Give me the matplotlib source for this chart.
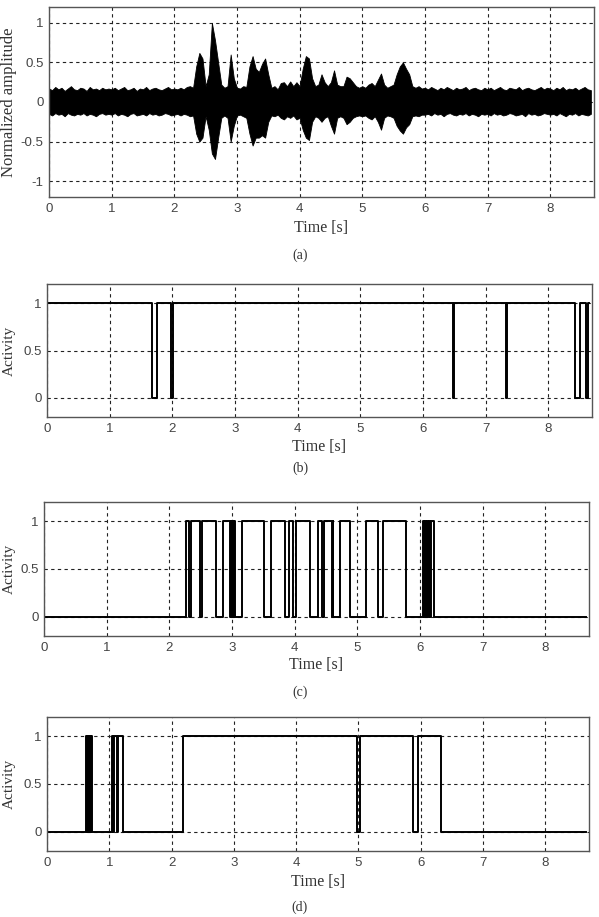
import numpy as np
import matplotlib
matplotlib.use("Agg")
import matplotlib.pyplot as plt

# ---- data ----
t_end = 8.65

# (a) waveform envelope, sampled every 0.05 s from 0 to 8.65 s
env_upper = [
    0.17, 0.15, 0.19, 0.16, 0.18, 0.14, 0.17, 0.20, 0.16, 0.15, 0.18, 0.17, 0.14, 0.19, 0.16, 0.17, 0.15, 0.18, 0.16, 0.17,
    0.16, 0.18, 0.15, 0.17, 0.19, 0.15, 0.16, 0.18, 0.14, 0.17, 0.16, 0.19, 0.15, 0.17, 0.18, 0.16, 0.15, 0.17, 0.19, 0.16,
    0.17, 0.16, 0.18, 0.16, 0.19, 0.20, 0.18, 0.45, 0.62, 0.55, 0.20, 0.35, 1.00, 0.78, 0.50, 0.22, 0.18, 0.20, 0.60, 0.30,
    0.18, 0.17, 0.20, 0.19, 0.45, 0.58, 0.42, 0.38, 0.48, 0.55, 0.35, 0.18, 0.20, 0.16, 0.24, 0.25, 0.20, 0.26, 0.20, 0.25,
    0.20, 0.42, 0.58, 0.55, 0.30, 0.20, 0.22, 0.35, 0.25, 0.20, 0.25, 0.40, 0.22, 0.20, 0.20, 0.32, 0.30, 0.25, 0.20, 0.18,
    0.20, 0.18, 0.22, 0.24, 0.20, 0.28, 0.36, 0.22, 0.18, 0.20, 0.22, 0.35, 0.45, 0.50, 0.42, 0.35, 0.20, 0.18, 0.20, 0.17,
    0.18, 0.16, 0.19, 0.17, 0.15, 0.18, 0.16, 0.19, 0.17, 0.15, 0.18, 0.16, 0.17, 0.19, 0.15, 0.17, 0.18, 0.16, 0.15, 0.18,
    0.16, 0.18, 0.15, 0.17, 0.19, 0.16, 0.15, 0.18, 0.17, 0.16, 0.19, 0.15, 0.17, 0.18, 0.16, 0.15, 0.17, 0.19, 0.16, 0.18,
    0.17, 0.15, 0.18, 0.16, 0.19, 0.15, 0.17, 0.16, 0.18, 0.15, 0.17, 0.19, 0.16, 0.15,
]
env_lower = [
    -0.15, -0.17, -0.14, -0.16, -0.15, -0.18, -0.14, -0.16, -0.17, -0.15, -0.16, -0.14, -0.17, -0.15, -0.16, -0.18, -0.15, -0.14, -0.16, -0.15,
    -0.16, -0.14, -0.17, -0.15, -0.16, -0.18, -0.15, -0.14, -0.17, -0.16, -0.15, -0.17, -0.14, -0.16, -0.15, -0.17, -0.16, -0.14, -0.15, -0.17,
    -0.16, -0.15, -0.17, -0.15, -0.16, -0.18, -0.17, -0.40, -0.50, -0.45, -0.18, -0.35, -0.65, -0.72, -0.45, -0.20, -0.17, -0.20, -0.50, -0.30,
    -0.17, -0.16, -0.18, -0.20, -0.40, -0.55, -0.45, -0.45, -0.42, -0.45, -0.25, -0.17, -0.18, -0.16, -0.20, -0.22, -0.18, -0.20, -0.17, -0.22,
    -0.20, -0.35, -0.45, -0.48, -0.25, -0.18, -0.20, -0.25, -0.20, -0.18, -0.30, -0.40, -0.20, -0.18, -0.20, -0.28, -0.25, -0.20, -0.18, -0.17,
    -0.18, -0.17, -0.20, -0.22, -0.18, -0.25, -0.35, -0.20, -0.17, -0.18, -0.20, -0.30, -0.36, -0.40, -0.32, -0.28, -0.18, -0.17, -0.18, -0.16,
    -0.16, -0.15, -0.17, -0.14, -0.16, -0.15, -0.18, -0.15, -0.14, -0.16, -0.17, -0.15, -0.16, -0.14, -0.17, -0.15, -0.16, -0.18, -0.15, -0.16,
    -0.15, -0.17, -0.14, -0.16, -0.15, -0.17, -0.16, -0.14, -0.15, -0.17, -0.16, -0.15, -0.18, -0.14, -0.16, -0.15, -0.17, -0.16, -0.14, -0.15,
    -0.16, -0.15, -0.17, -0.14, -0.16, -0.18, -0.15, -0.16, -0.14, -0.17, -0.15, -0.16, -0.17, -0.15,
]
env_t = np.round(np.arange(len(env_upper)) * 0.05, 2)

# (b)-(d) activity: switch times and the value that starts at each time
b_times = [0, 1.67, 1.76, 1.98, 2.01, 6.48, 6.50, 7.33, 7.35, 8.43, 8.51, 8.60, 8.63]
b_vals = [1, 0, 1, 0, 1, 0, 1, 0, 1, 0, 1, 0, 1]

c_times = [0, 2.27, 2.32, 2.35, 2.49, 2.53, 2.75, 2.85,
           2.97, 2.98, 2.99, 3.00, 3.01, 3.02, 3.03, 3.04, 3.05,
           3.16, 3.51, 3.63, 3.85, 3.91, 3.98, 4.02, 4.24, 4.37, 4.44, 4.47,
           4.60, 4.61, 4.62, 4.73, 4.89, 5.14, 5.33, 5.41, 5.78,
           6.05, 6.07, 6.08, 6.10, 6.11, 6.13, 6.14, 6.16, 6.18, 6.23]
c_vals = [0, 1, 0, 1, 0, 1, 0, 1,
          0, 1, 0, 1, 0, 1, 0, 1, 0,
          1, 0, 1, 0, 1, 0, 1, 0, 1, 0, 1,
          0, 1, 0, 1, 0, 1, 0, 1, 0,
          1, 0, 1, 0, 1, 0, 1, 0, 1, 0]

d_times = [0, 0.63, 0.64, 0.65, 0.66, 0.67, 0.68, 0.69, 0.70, 0.71, 0.72,
           1.04, 1.06, 1.07, 1.12, 1.14, 1.22,
           2.18, 4.97, 5.02, 5.88, 5.96, 6.33]
d_vals = [0, 1, 0, 1, 0, 1, 0, 1, 0, 1, 0,
          1, 0, 1, 0, 1, 0,
          1, 0, 1, 0, 1, 0]

captions = ["(a)", "(b)", "(c)", "(d)"]
x_ticks = [0, 1, 2, 3, 4, 5, 6, 7, 8]

# ---- layout (pixels: left, top, right, bottom) ----
W, H = 599, 917
boxes = [(49, 7, 594, 197), (47, 284, 592, 417), (44, 502, 589, 636), (47, 717, 589, 851)]
xlab_y = [228, 447, 665, 882]
cap_y = [255, 468, 692, 907]

serif = ["Liberation Serif", "DejaVu Serif"]
sans = ["Liberation Sans", "DejaVu Sans"]

fig = plt.figure(figsize=(W / 100, H / 100), dpi=100)


def make_axes(i):
    l, t, r, b = boxes[i]
    ax = fig.add_axes([l / W, 1 - b / H, (r - l) / W, (b - t) / H])
    ax.set_xlim(0, 8.7)
    ax.set_xticks(x_ticks)
    ax.set_xticklabels([str(v) for v in x_ticks])
    ax.grid(True, color="#222222", linestyle=(0, (3, 3)), linewidth=0.8)
    ax.set_axisbelow(True)
    for s in ax.spines.values():
        s.set_color("#555555")
        s.set_linewidth(1.0)
    ax.tick_params(length=0, pad=4, labelsize=9.5, colors="#444444")
    cx = (l + r) / 2
    fig.text(cx / W, 1 - xlab_y[i] / H, "Time [s]", ha="center", va="center",
             fontsize=11.5, family=serif, color="#333333")
    fig.text(300 / W, 1 - cap_y[i] / H, captions[i], ha="center", va="center",
             fontsize=10, family=serif, color="#333333")
    return ax


def font_ticks(ax):
    for lab in ax.get_xticklabels() + ax.get_yticklabels():
        lab.set_family(sans)


# (a) waveform
ax = make_axes(0)
ax.fill_between(env_t, env_lower, env_upper, color="black", linewidth=0.6)
ax.set_ylim(-1.2, 1.2)
ax.set_yticks([-1, -0.5, 0, 0.5, 1])
ax.set_yticklabels(["-1", "-0.5", "0", "0.5", "1"])
font_ticks(ax)
fig.text(9 / W, 1 - 102 / H, "Normalized amplitude", rotation=90, ha="center",
         va="center", fontsize=12, family=serif, color="#333333")

# (b)-(d) activity
series = [(b_times, b_vals), (c_times, c_vals), (d_times, d_vals)]
for i, (ts, vs) in enumerate(series, start=1):
    ax = make_axes(i)
    ax.step(list(ts) + [t_end], list(vs) + [vs[-1]], where="post",
            color="black", linewidth=1.4)
    ax.set_ylim(-0.2, 1.2)
    ax.set_yticks([0, 0.5, 1])
    ax.set_yticklabels(["0", "0.5", "1"])
    font_ticks(ax)
    l, t, r, b = boxes[i]
    fig.text(9 / W, 1 - (t + b) / 2 / H, "Activity", rotation=90, ha="center",
             va="center", fontsize=11, family=serif, color="#333333")

fig.savefig("out.png", dpi=100)
